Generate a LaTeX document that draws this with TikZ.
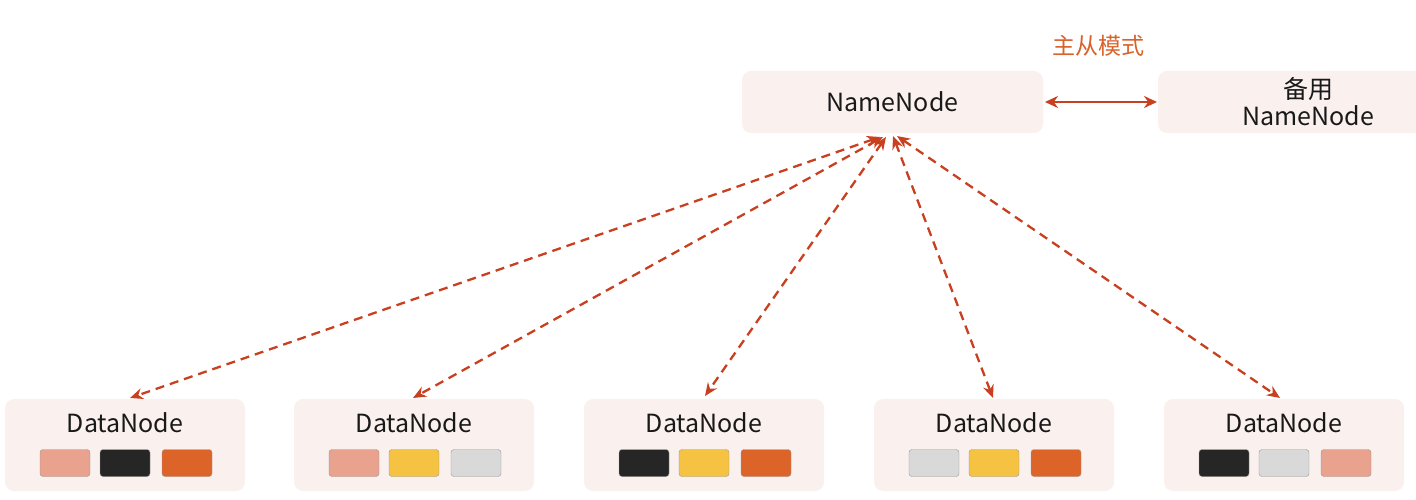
\documentclass[tikz,border=0pt]{standalone}
\usepackage{fontspec}
\setmainfont{Noto Sans CJK SC}
\usetikzlibrary{arrows.meta}
\definecolor{boxfill}{HTML}{FAF1EF}
\definecolor{linec}{HTML}{C8401F}
\definecolor{labelc}{HTML}{D9622B}
\definecolor{csalmon}{HTML}{E8A28D}
\definecolor{cblack}{HTML}{262626}
\definecolor{corange}{HTML}{DC6429}
\definecolor{cyellow}{HTML}{F5C242}
\definecolor{cgray}{HTML}{D9D9D9}
\tikzset{
  panel/.style={fill=boxfill, rounded corners=9pt, draw=none},
  blk/.style={rounded corners=3pt, minimum width=50pt, minimum height=27pt, inner sep=0pt, draw=black!40, line width=0.4pt},
  lbl/.style={font=\fontsize{25}{30}\selectfont, text=black!90},
  link/.style={draw=linec, line width=2.3pt, dash pattern=on 9pt off 6pt, {Stealth[length=13pt,width=11pt]}-{Stealth[length=13pt,width=11pt]}},
}
\begin{document}
\begin{tikzpicture}[x=1pt,y=-1pt]
\useasboundingbox (0,0) rectangle (1416,500);
% top boxes
\path[panel] (742,71) rectangle (1043,133);
\node[lbl] (nn) at (892.5,102) {NameNode};
\path[panel] (1158,71) rectangle (1430,133);
\node[lbl, align=center] (bk) at (1308,102) {备用\\[-3pt]NameNode};
\coordinate (nnr) at (1045,102);
\coordinate (bkl) at (1157,102);
\draw[draw=linec, line width=2.5pt, {Stealth[length=13pt,width=12pt]}-{Stealth[length=13pt,width=12pt]}] (nnr) -- (bkl);
\node[font=\fontsize{23}{28}\selectfont, text=labelc] (ms) at (1098,46) {主从模式};
% datanodes
\foreach \i/\x/\a/\b/\c in {1/125/csalmon/cblack/corange, 2/414/csalmon/cyellow/cgray, 3/704/cblack/cyellow/corange, 4/994/cgray/cyellow/corange, 5/1284/cblack/cgray/csalmon}{
  \path[panel] (\x-120,399) rectangle (\x+120,491);
  \node[lbl] (dn\i) at (\x,423) {DataNode};
  \node[blk, fill=\a] (s\i a) at (\x-60,463) {};
  \node[blk, fill=\b] (s\i b) at (\x,463) {};
  \node[blk, fill=\c] (s\i c) at (\x+62,463) {};
}
\coordinate (dt1) at (130,398);
\coordinate (dt2) at (413,398);
\coordinate (dt3) at (705,396);
\coordinate (dt4) at (993,398);
\coordinate (dt5) at (1280,398);
\coordinate (t1) at (880,137);
\coordinate (t2) at (883,137);
\coordinate (t3) at (886,137);
\coordinate (t4) at (893,136);
\coordinate (t5) at (897,136);
\foreach \i in {1,...,5}{
  \draw[link] (t\i) -- (dt\i);
}
\end{tikzpicture}
\end{document}
